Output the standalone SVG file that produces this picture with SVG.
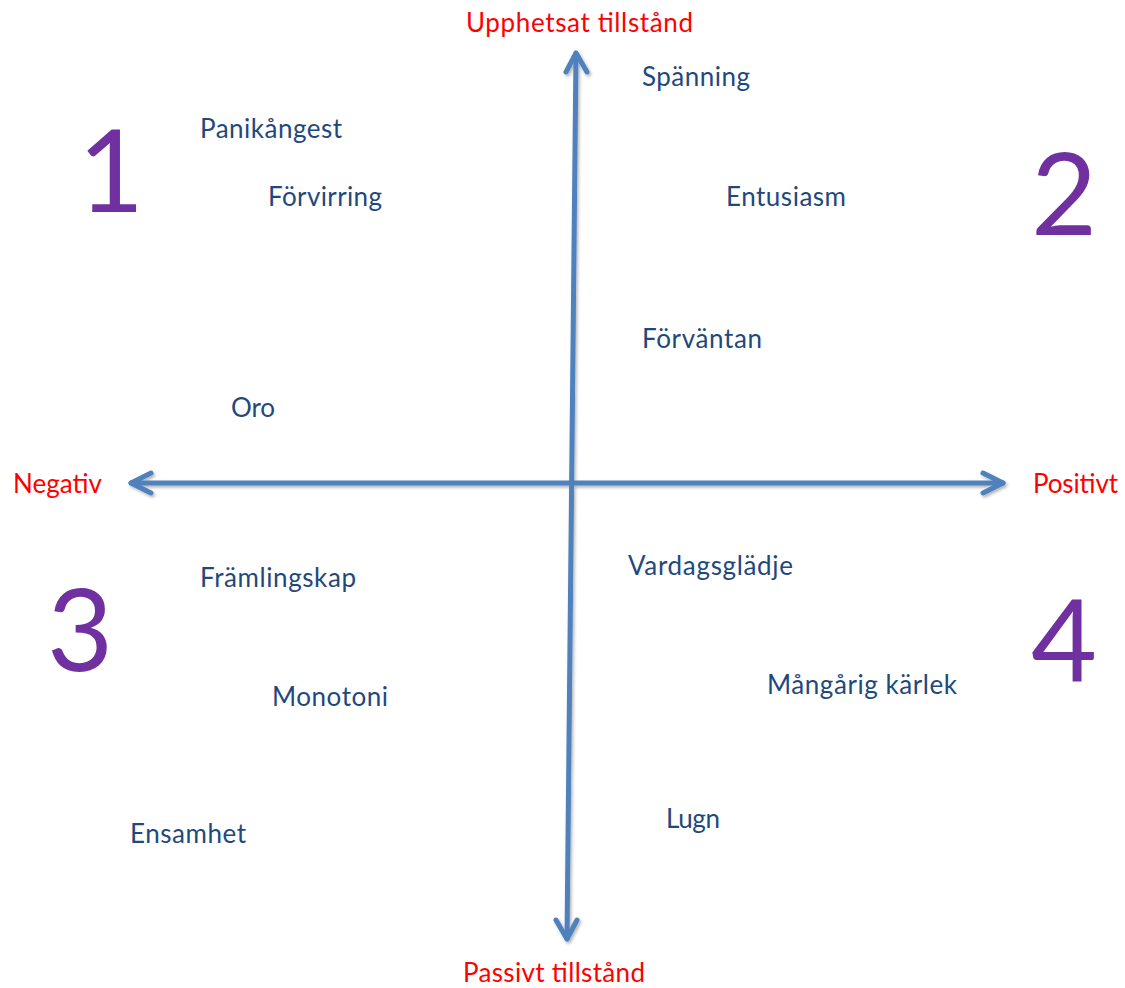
<svg xmlns="http://www.w3.org/2000/svg" width="1125" height="988" viewBox="0 0 1125 988">
<style>
.lbl{font-family:Lato,"Open Sans","Liberation Sans",sans-serif;font-size:26px;fill:#1F497D}
.ax{font-family:Lato,"Open Sans","Liberation Sans",sans-serif;font-size:26px;fill:#FF0000}
.num{font-family:Lato,"Open Sans","Liberation Sans",sans-serif;font-size:114px;fill:#7030A0;text-anchor:middle}
.arr{fill:none;stroke:#4F81BD;stroke-width:5;stroke-linecap:round;stroke-linejoin:round}
</style>
<defs>
<filter id="sh" x="-10%" y="-10%" width="120%" height="120%">
<feDropShadow dx="1.5" dy="2" stdDeviation="1.5" flood-color="#000" flood-opacity="0.3"/>
</filter>
</defs>
<rect width="1125" height="988" fill="#FFFFFF"/>
<g id="connectors" filter="url(#sh)">
<line class="arr" x1="576" y1="53" x2="567" y2="939"/>
<polyline class="arr" points="566,72 576,53 587,72"/>
<polyline class="arr" points="556,920 567,939 577,920"/>
<line class="arr" x1="131" y1="483" x2="1003" y2="483"/>
<polyline class="arr" points="151,473 131,483 151,493"/>
<polyline class="arr" points="983,473 1003,483 983,493"/>
</g>
<g id="axis-labels">
<text id="upphetsat" class="ax" x="466" y="32" textLength="227">Upphetsat tillstånd</text>
<text id="passivt" class="ax" x="463" y="982" textLength="182">Passivt tillstånd</text>
<text id="negativ" class="ax" x="13" y="493" textLength="89">Negativ</text>
<text id="positivt" class="ax" x="1033" y="493" textLength="85">Positivt</text>
</g>
<g id="quadrant-numbers">
<text id="q1" class="num" x="111" y="212">1</text>
<text id="q2" class="num" x="1064" y="235">2</text>
<text id="q3" class="num" x="80" y="671">3</text>
<text id="q4" class="num" x="1064" y="682">4</text>
</g>
<g id="emotions">
<g id="n-spanning"><text class="lbl" x="642" y="86" textLength="108">Spänning</text></g>
<g id="n-panikangest"><text class="lbl" x="200" y="138" textLength="142">Panikångest</text></g>
<g id="n-forvirring"><text class="lbl" x="268" y="206" textLength="114">Förvirring</text></g>
<g id="n-entusiasm"><text class="lbl" x="726" y="206" textLength="120">Entusiasm</text></g>
<g id="n-forvantan"><text class="lbl" x="642" y="348" textLength="120">Förväntan</text></g>
<g id="n-oro"><text class="lbl" x="231" y="417" textLength="44">Oro</text></g>
<g id="n-framlingskap"><text class="lbl" x="200" y="587" textLength="156">Främlingskap</text></g>
<g id="n-vardagsgladje"><text class="lbl" x="628" y="575" textLength="165">Vardagsglädje</text></g>
<g id="n-monotoni"><text class="lbl" x="272" y="706" textLength="116">Monotoni</text></g>
<g id="n-mangarig"><text class="lbl" x="767" y="694" textLength="190">Mångårig kärlek</text></g>
<g id="n-ensamhet"><text class="lbl" x="130" y="843" textLength="116">Ensamhet</text></g>
<g id="n-lugn"><text class="lbl" x="666" y="828" textLength="54">Lugn</text></g>
</g>
</svg>
